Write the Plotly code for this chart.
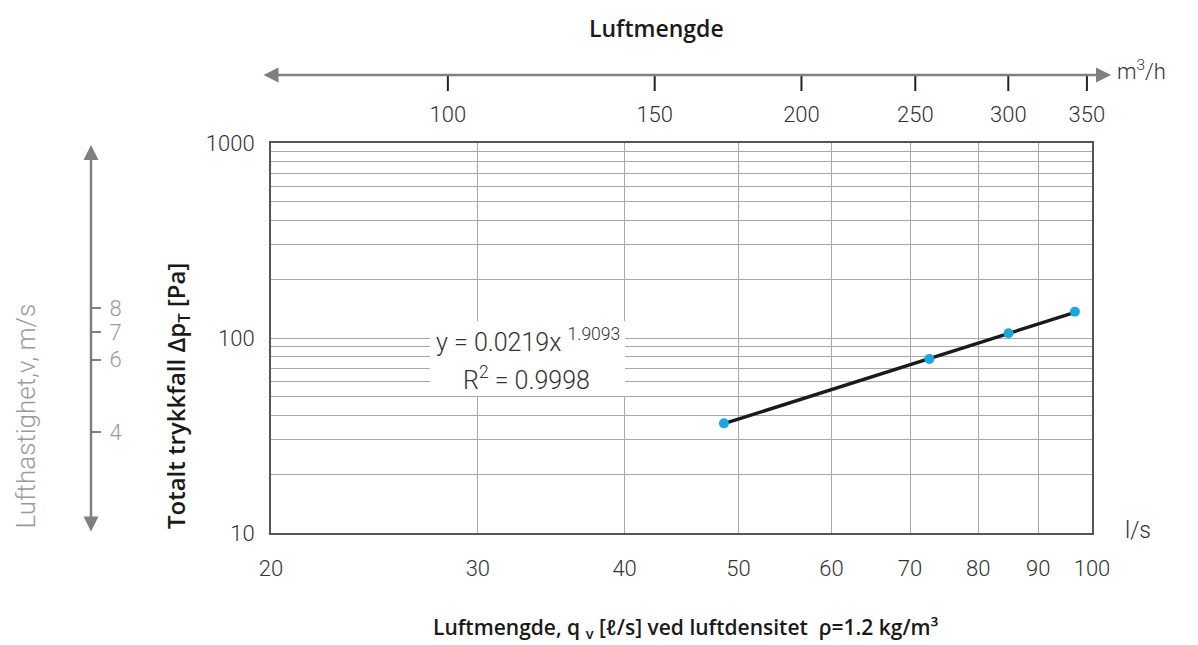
import math
import plotly.graph_objects as go

# Measured airflow (l/s) and total pressure drop (Pa)
flow_ls = [48.6, 72.7, 84.9, 96.7]
dp_pa = [36.5, 78.0, 105.7, 136.4]

# Power-law trendline y = a * x^b as printed in the chart
fit_a = 0.0219
fit_b = 1.9093
fit_r2 = 0.9998

# Axis tick values
x_ticks = [20, 30, 40, 50, 60, 70, 80, 90, 100]
y_grid = [10, 20, 30, 40, 50, 60, 70, 80, 90,
          100, 200, 300, 400, 500, 600, 700, 800, 900, 1000]
y_labels = {10: "10", 100: "100", 1000: "1000"}
m3h_ticks = [100, 150, 200, 250, 300, 350]
vel_ticks = [4, 6, 7, 8]

W, H = 1198, 645
def px(p):
    return p / W
def py(p):
    return 1 - p / H

FONT = "Roboto"
BOLD = "Open Sans"
TXT = "#333333"
GRID = "#a8a8a8"
GREY = "#7f7f7f"

# plot box in pixels
L, R, T, B = 271, 1092, 143, 533

trend_x = [flow_ls[0], flow_ls[-1]]
trend_y = [fit_a * v ** fit_b for v in trend_x]

# m3/h tick marks hanging below the arrow line (strip axis y4 runs 0..1)
tick_x, tick_y = [], []
for v in m3h_ticks:
    tick_x += [v, v, None]
    tick_y += [0, 1, None]

fig = go.Figure()
fig.add_trace(go.Scatter(x=trend_x, y=trend_y, mode="lines",
                         line=dict(color="#1a1a1a", width=3.4),
                         showlegend=False, hoverinfo="skip"))
fig.add_trace(go.Scatter(x=flow_ls, y=dp_pa, mode="markers",
                         marker=dict(color="#1aa7e0", size=10),
                         showlegend=False, hoverinfo="skip"))
fig.add_trace(go.Scatter(x=tick_x, y=tick_y, xaxis="x2", yaxis="y4",
                         mode="lines", line=dict(color="#222222", width=2),
                         connectgaps=False, cliponaxis=False,
                         showlegend=False, hoverinfo="skip"))
# helper trace so the velocity scale is drawn
fig.add_trace(go.Scatter(x=[30], y=[5], xaxis="x", yaxis="y3",
                         mode="markers", marker=dict(opacity=0),
                         showlegend=False, hoverinfo="skip"))

tick_font = dict(family=FONT, size=22, color=TXT, weight=300)

fig.update_layout(
    width=W, height=H,
    margin=dict(l=0, r=0, t=0, b=0, autoexpand=False),
    paper_bgcolor="white", plot_bgcolor="rgba(0,0,0,0)",
    xaxis=dict(type="log", domain=[px(L), px(R)],
               range=[math.log10(20), math.log10(100)],
               tickvals=x_ticks, ticktext=[str(v) for v in x_ticks],
               showgrid=True, gridcolor=GRID, gridwidth=1.3,
               showline=True, linecolor="#555555", linewidth=2, mirror=True,
               ticks="", tickfont=tick_font, ticklabelstandoff=15,
               zeroline=False, anchor="y"),
    yaxis=dict(type="log", domain=[py(B), py(T)], range=[1, 3],
               tickvals=y_grid,
               ticktext=[y_labels.get(v, "") for v in y_grid],
               showgrid=True, gridcolor=GRID, gridwidth=1.3,
               showline=True, linecolor="#555555", linewidth=2, mirror=True,
               ticks="", tickfont=tick_font, ticklabelstandoff=10,
               zeroline=False, anchor="x"),
    # m3/h scale in a thin strip just below the top arrow
    xaxis2=dict(type="log", domain=[px(L), px(R)],
                range=[math.log10(70.7), math.log10(353.5)],
                anchor="y4", side="bottom",
                tickvals=m3h_ticks, ticktext=[str(v) for v in m3h_ticks],
                ticks="", showgrid=False, showline=False, zeroline=False,
                tickfont=tick_font, ticklabelstandoff=8),
    yaxis4=dict(domain=[py(91), py(75)], range=[0, 1], visible=False,
                anchor="x2"),
    yaxis3=dict(type="log", overlaying="y",
                range=[math.log10(2.28), math.log10(20.1)],
                anchor="free", position=px(91), side="right",
                tickvals=vel_ticks, ticktext=[str(v) for v in vel_ticks],
                ticks="outside", ticklen=9, tickwidth=2, tickcolor=GREY,
                showgrid=False, showline=False, zeroline=False,
                tickfont=dict(family=FONT, size=22, color="#9a9a9a", weight=300),
                ticklabelstandoff=4),
)

# white panel behind the trendline equation
fig.add_shape(type="rect", xref="paper", yref="paper",
              x0=px(430), x1=px(625), y0=py(396), y1=py(321),
              fillcolor="white", line=dict(width=0), layer="above")

ann = []
# double-headed arrows for the secondary scales
ann.append(dict(x=px(1111), y=py(75), xref="paper", yref="paper",
                ax=-(1111 - 262), ay=0, text="", showarrow=True,
                arrowside="end+start", arrowhead=2, arrowsize=1.2,
                arrowwidth=2.5, arrowcolor=GREY, standoff=0, startstandoff=0))
ann.append(dict(x=px(91), y=py(145), xref="paper", yref="paper",
                ax=0, ay=533 - 145, text="", showarrow=True,
                arrowside="end+start", arrowhead=2, arrowsize=1.2,
                arrowwidth=2.5, arrowcolor=GREY, standoff=0, startstandoff=0))

def label(x, y, text, font, **kw):
    d = dict(x=px(x), y=py(y), xref="paper", yref="paper", text=text,
             showarrow=False, xanchor="center", yanchor="middle", font=font)
    d.update(kw)
    ann.append(d)

bold = lambda s: dict(family=BOLD, size=s, color="#1a1a1a", weight=600)
light = lambda s, c=TXT: dict(family=FONT, size=s, color=c, weight=300)

label(656, 28, "Luftmengde", bold(23))
label(1141, 70, "m<sup>3</sup>/h", light(22))
label(1138, 530, "l/s", light(23))
label(685, 628,
      "Luftmengde, q <sub>v</sub> [ℓ/s] ved luftdensitet  ρ=1.2 kg/m³",
      bold(21))
label(177, 531, "Totalt trykkfall Δp<sub>T</sub> [Pa]", bold(24),
      textangle=-90, yanchor="bottom")
label(25, 531, "Lufthastighet,v, m/s", light(26, "#9a9a9a"),
      textangle=-90, yanchor="bottom")
# trendline equation
label(528, 340, f"y = {fit_a}x <sup>{fit_b}</sup>", light(25))
label(526, 378, f"R<sup>2</sup> = {fit_r2}", light(25))

fig.update_layout(annotations=ann)
fig.write_html("out.html")
